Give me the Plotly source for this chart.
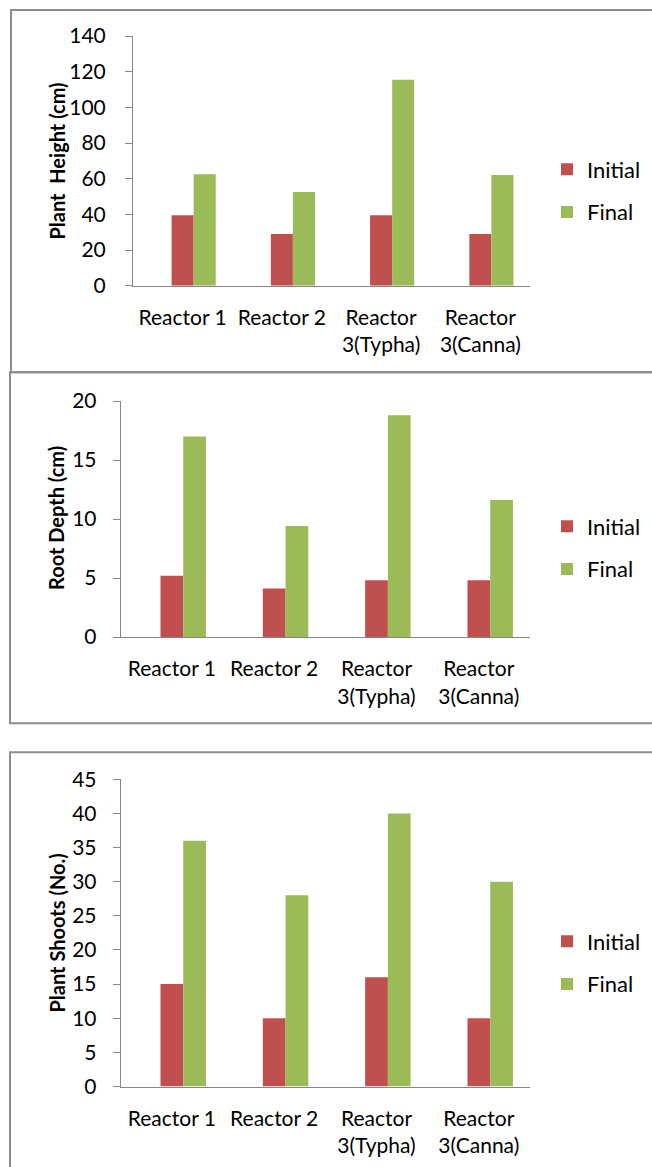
import plotly.graph_objects as go

# ---------------- data ----------------
categories = ["Reactor 1", "Reactor 2", "Reactor<br>3(Typha)", "Reactor<br>3(Canna)"]
series_names = ["Initial", "Final"]

height_initial = [39.5, 29, 39.5, 29]
height_final = [62.5, 52.5, 115.5, 62]

root_initial = [5.2, 4.1, 4.8, 4.8]
root_final = [17, 9.4, 18.8, 11.6]

shoots_initial = [15, 10, 16, 10]
shoots_final = [36, 28, 40, 30]

y_titles = ["Plant\u00a0 Height (cm)", "Root Depth (cm)", "Plant Shoots (No.)"]
y_ranges = [[0, 140], [0, 20], [0, 45]]
y_dticks = [20, 5, 5]

# ---------------- layout helpers (pixels) ----------------
W, H = 652, 1167
COL_I = "#C0504D"
COL_F = "#9BBB59"
AXIS_COL = "#868686"
BORDER_COL = "#8C8C8C"
FONT = "Lato, 'Open Sans', sans-serif"


def px_x(v):
    return v / W


def px_y(v):
    return 1 - v / H


panels = [
    dict(x0=133, x1=530, y0=36, y1=285.7, ini=height_initial, fin=height_final,
         leg_mid=191, title_y=161.5, standoff=15),
    dict(x0=120.7, x1=530, y0=401, y1=637, ini=root_initial, fin=root_final,
         leg_mid=548, title_y=518, standoff=12),
    dict(x0=120.7, x1=530, y0=779.3, y1=1086.5, ini=shoots_initial, fin=shoots_final,
         leg_mid=963, title_y=933.5, standoff=12),
]

fig = go.Figure()
layout = dict(
    width=W, height=H,
    autosize=False,
    margin=dict(l=0, r=0, t=0, b=0, pad=0, autoexpand=False),
    paper_bgcolor="white", plot_bgcolor="white",
    barmode="overlay",
    font=dict(family=FONT, color="#000000", size=20),
    annotations=[], shapes=[],
)

bw = 1 / 4.5
for i, p in enumerate(panels):
    n = "" if i == 0 else str(i + 1)
    xa, ya = "x" + n, "y" + n
    leg = "legend" + n
    fig.add_trace(go.Bar(
        x=categories, y=p["ini"], name=series_names[0], marker_color=COL_I,
        marker_line_width=0, width=bw, offset=-bw / 2,
        xaxis=xa, yaxis=ya, legend=leg, legendgroup="i" + n,
    ))
    fig.add_trace(go.Bar(
        x=categories, y=p["fin"], name=series_names[1], marker_color=COL_F,
        marker_line_width=0, width=bw, offset=bw / 2,
        xaxis=xa, yaxis=ya, legend=leg, legendgroup="f" + n,
    ))
    layout["xaxis" + n] = dict(
        domain=[px_x(p["x0"]), px_x(p["x1"])], anchor=ya,
        type="category", range=[-0.5, 3.5], automargin=False,
        showline=True, linecolor=AXIS_COL, linewidth=1,
        ticks="", showgrid=False, zeroline=False,
        tickfont=dict(size=21, family=FONT, color="#000000"),
        ticklabelstandoff=13, fixedrange=True,
    )
    layout["yaxis" + n] = dict(
        domain=[px_y(p["y1"]), px_y(p["y0"])], anchor=xa,
        range=y_ranges[i], dtick=y_dticks[i], tick0=0, automargin=False,
        showline=True, linecolor=AXIS_COL, linewidth=1,
        ticks="outside", ticklen=7, tickcolor=AXIS_COL,
        showgrid=False, zeroline=False,
        tickfont=dict(size=21, family=FONT, color="#000000"),
        ticklabelstandoff=p["standoff"], fixedrange=True,
    )
    layout[leg] = dict(
        x=px_x(547), y=px_y(p["leg_mid"]), xanchor="left", yanchor="middle",
        traceorder="grouped", tracegroupgap=11,
        font=dict(size=22, family=FONT, color="#000000"),
        bgcolor="rgba(0,0,0,0)", borderwidth=0,
    )
    layout["annotations"].append(dict(
        text="<b>" + y_titles[i] + "</b>", textangle=-90,
        x=px_x(56), y=px_y(p["title_y"]), xref="paper", yref="paper",
        xanchor="center", yanchor="middle", showarrow=False,
        font=dict(size=20, family=FONT, color="#000000"),
    ))

# panel borders
borders = [(11, 10, 670, 372.3), (10, 372.3, 670, 723.3), (10, 752.3, 670, 1180)]
for (bx0, by0, bx1, by1) in borders:
    layout["shapes"].append(dict(
        type="rect", xref="paper", yref="paper",
        x0=px_x(bx0), x1=px_x(bx1), y0=px_y(by1), y1=px_y(by0),
        line=dict(color=BORDER_COL, width=2), fillcolor="rgba(0,0,0,0)", layer="below",
    ))

fig.update_layout(**layout)
fig.write_html(
    "out.html",
    config={"responsive": False, "displayModeBar": False},
    post_script="document.body.style.margin='0';document.body.style.overflow='hidden';"
                "document.documentElement.style.overflow='hidden';",
)
